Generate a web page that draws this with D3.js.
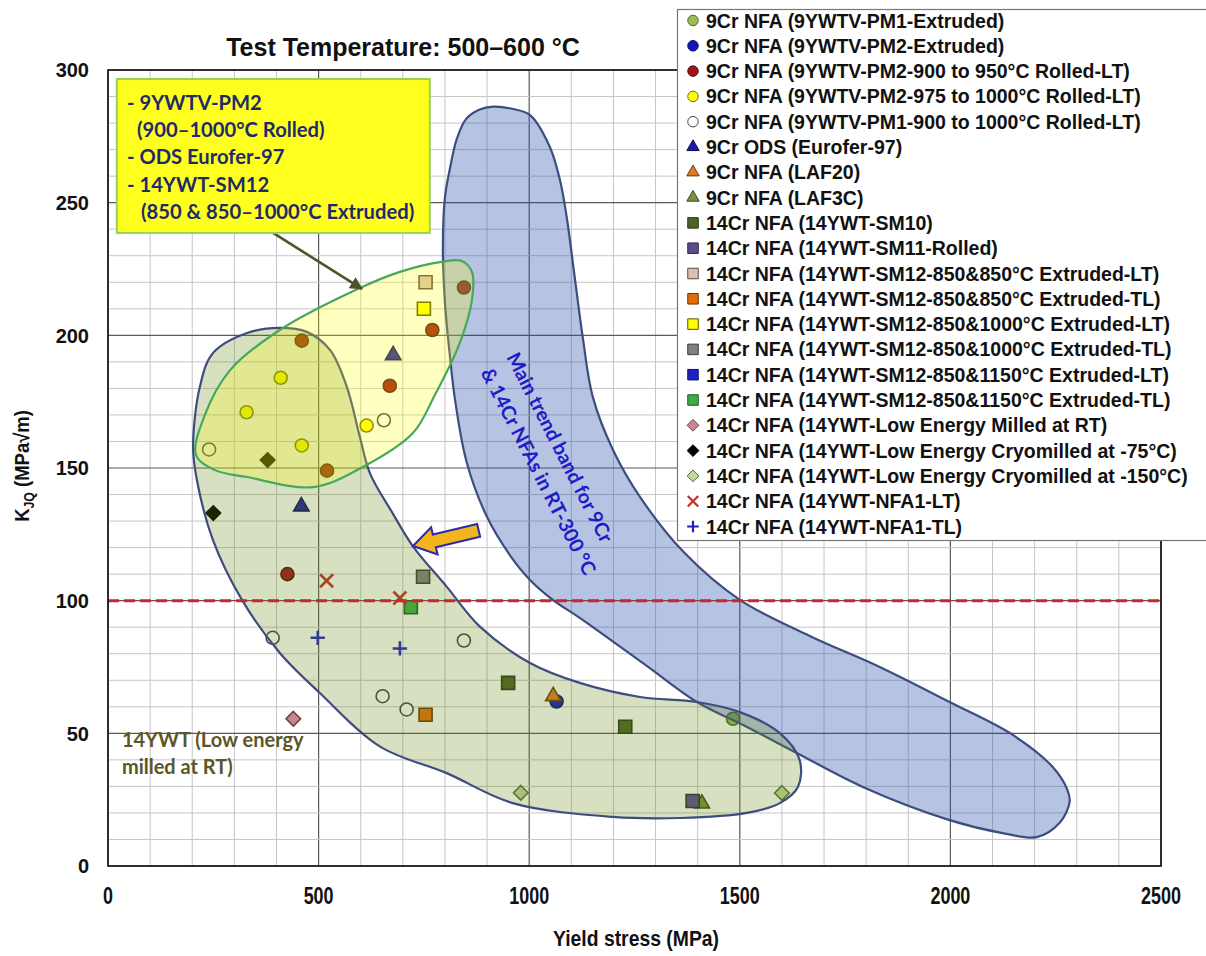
<!DOCTYPE html>
<html><head><meta charset="utf-8">
<script src="https://cdn.jsdelivr.net/npm/d3@7"></script>
<style>
body{margin:0;background:#fff;}
svg{display:block;}
text{font-family:"Liberation Sans",Arial,sans-serif;}
</style></head><body>
<svg id="c" width="1206" height="956"></svg>
<script>
// ---------- DATA ----------
const xTicks = [0, 500, 1000, 1500, 2000, 2500];
const yTicks = [0, 50, 100, 150, 200, 250, 300];
const xMinor = d3.range(0, 2501, 100);
const yMinor = d3.range(0, 301, 10);

const seriesLabels = [
"9Cr NFA (9YWTV-PM1-Extruded)",
"9Cr NFA (9YWTV-PM2-Extruded)",
"9Cr NFA (9YWTV-PM2-900 to 950°C Rolled-LT)",
"9Cr NFA (9YWTV-PM2-975 to 1000°C Rolled-LT)",
"9Cr NFA (9YWTV-PM1-900 to 1000°C Rolled-LT)",
"9Cr ODS (Eurofer-97)",
"9Cr NFA (LAF20)",
"9Cr NFA (LAF3C)",
"14Cr NFA (14YWT-SM10)",
"14Cr NFA (14YWT-SM11-Rolled)",
"14Cr NFA (14YWT-SM12-850&850°C Extruded-LT)",
"14Cr NFA (14YWT-SM12-850&850°C Extruded-TL)",
"14Cr NFA (14YWT-SM12-850&1000°C Extruded-LT)",
"14Cr NFA (14YWT-SM12-850&1000°C Extruded-TL)",
"14Cr NFA (14YWT-SM12-850&1150°C Extruded-LT)",
"14Cr NFA (14YWT-SM12-850&1150°C Extruded-TL)",
"14Cr NFA (14YWT-Low Energy Milled at RT)",
"14Cr NFA (14YWT-Low Energy Cryomilled at -75°C)",
"14Cr NFA (14YWT-Low Energy Cryomilled at -150°C)",
"14Cr NFA (14YWT-NFA1-LT)",
"14Cr NFA (14YWT-NFA1-TL)"];

const seriesShapes = ["circle","circle","circle","circle","circle","triangle","triangle","triangle",
"square","square","square","square","square","square","square","square",
"diamond","diamond","diamond","x","plus"];

const seriesFills = ["#9bbb59","#1515c0","#a31515","#ffff00","#ffffff","#1c1ca8","#e07b28","#77933c",
"#4f6228","#5f4b8b","#dcc0b4","#e46c0a","#ffff00","#808080","#1f1fc8","#3fae49",
"#c9868f","#000000","#c3d69b","#c0302a","#1f1fc0"];

const seriesStrokes = ["#4e6a2a","#0b0b60","#4a1010","#6b6b10","#444444","#0d0d55","#6b3a10","#3b4a1e",
"#2a3515","#2e2545","#5a4a40","#6b3405","#555500","#3a3a3a","#101060","#1f5a25",
"#6a4045","#000000","#5a6a3a","#c0302a","#1f1fc0"];

const pm1Extruded   = [[1484, 55.5]];
const pm2Extruded   = [[1065, 62]];
const pm2Rolled950  = [[845, 218], [770, 202], [460, 198], [669, 181], [520, 149], [426, 110]];
const pm2Rolled1000 = [[410, 184], [329, 171], [614, 166], [460, 158.5]];
const pm1Rolled     = [[655, 168], [240, 157], [391, 86], [845, 85], [652, 64], [709, 59]];
const eurofer97     = [[677, 192.5], [459, 135.5]];
const laf20         = [[1057, 64]];
const laf3c         = [[1410, 23.5]];
const sm10          = [[950, 69], [1228, 52.5]];
const sm11Rolled    = [[1388, 24.5]];
const sm12_850LT    = [[754, 220]];
const sm12_850TL    = [[754, 57]];
const sm12_1000LT   = [[750, 210]];
const sm12_1000TL   = [[748, 109]];
const sm12_1150LT   = [];
const sm12_1150TL   = [[719, 97.5]];
const milledRT      = [[440, 55.5]];
const cryo75        = [[379, 153], [250, 133]];
const cryo150       = [[980, 27.6], [1600, 27.5]];
const nfa1LT        = [[519, 107.5], [693, 101]];
const nfa1TL        = [[498, 86], [693, 82]];

const seriesValues = [pm1Extruded, pm2Extruded, pm2Rolled950, pm2Rolled1000, pm1Rolled, eurofer97, laf20, laf3c,
  sm10, sm11Rolled, sm12_850LT, sm12_850TL, sm12_1000LT, sm12_1000TL, sm12_1150LT, sm12_1150TL,
  milledRT, cryo75, cryo150, nfa1LT, nfa1TL];

// band outlines (yield stress MPa, K_JQ)
const bandMainTrend = [[914,286.2],[959,285.4],[1002,283],[1049,271],[1073,258.5],[1089,244.6],[1108,222],[1127,199.4],[1151,176.8],
 [1199,156.8],[1263,139.1],[1365,118.6],[1500,100.3],[1666,86.7],[1832,75],[1998,61.8],[2148,49.4],[2243,37.3],
 [2278,28.6],[2283,24.1],[2259,16.2],[2205,10.9],[2124,12.4],[1998,17.3],[1792,29.8],[1635,42.6],[1517,52.4],
 [1398,61.8],[1279,75.4],[1120,93.5],[1056,100.3],[1002,107.8],[954,117.2],[900,131.5],[852,151.9],[824,175.6],
 [812,191.8],[800,212.2],[795,232.2],[800,252.1],[812,263],[828,274],[850,281.5],[881,285]];
const band14YWT = [[408,202.8],[472,201.3],[527,194.5],[567,180.6],[598,161.7],[622,148],[676,132.9],[724,120.5],
 [804,105.3],[883,90.2],[1002,76.5],[1120,69],[1263,63.7],[1398,61.8],[1500,58],[1595,50.1],[1642,40],[1638,29.8],
 [1595,23.7],[1517,20],[1358,18.1],[1199,18.5],[961,23.7],[804,35],[646,45],[503,65.2],[408,80.3],[318,100.3],
 [249,122.9],[211,145.5],[202,157.9],[218,180.5],[249,193.3],[330,200.9]];
const bandRolled = [[209,154.9],[254,149.2],[330,146.6],[487,142.8],[605,150.4],[724,163.2],[776,177.5],[835,197.1],
 [864,213.3],[864,223.9],[840,228],[788,227.6],[693,223.9],[598,217.8],[408,202],[290,186.9],[230,170]];

const thresholdK = 100;
const calloutLines = ["- 9YWTV-PM2", "(900–1000°C Rolled)", "- ODS Eurofer-97", "- 14YWT-SM12", "(850 & 850–1000°C Extruded)"];
const trendLabelLines = ["Main trend band for 9Cr", "& 14Cr NFAs in RT-300 °C"];
const lowEnergyLines = ["14YWT (Low energy", "milled at RT)"];

// ---------- CHART ----------
const svg = d3.select("#c");
const x = d3.scaleLinear([0, 2500], [108, 1161]);
const y = d3.scaleLinear([0, 300], [866, 70]);

// grid
const g = svg.append("g");
g.selectAll(".vmin").data(xMinor).join("line")
  .attr("x1", d => x(d)).attr("x2", d => x(d)).attr("y1", y(0)).attr("y2", y(300))
  .attr("stroke", d => d % 500 === 0 ? "#5a5a5a" : "#c6c6c6").attr("stroke-width", d => d % 500 === 0 ? 1.2 : 1);
g.selectAll(".hmin").data(yMinor).join("line")
  .attr("y1", d => y(d)).attr("y2", d => y(d)).attr("x1", x(0)).attr("x2", x(2500))
  .attr("stroke", d => d % 50 === 0 ? "#5a5a5a" : "#c6c6c6").attr("stroke-width", d => d % 50 === 0 ? 1.2 : 1);

function shapePath(shape, s) {
  if (shape === "circle") { const r = s / 2; return `M${r},0A${r},${r},0,1,1,${-r},0A${r},${r},0,1,1,${r},0Z`; }
  if (shape === "square") { const h = s / 2; return `M${-h},${-h}H${h}V${h}H${-h}Z`; }
  if (shape === "triangle") { const side = s * 1.18, h = side * Math.sqrt(3) / 2;
    return `M0,${-2 * h / 3}L${side / 2},${h / 3}L${-side / 2},${h / 3}Z`; }
  if (shape === "diamond") { const d = s * 0.56; return `M0,${-d}L${d},0L0,${d}L${-d},0Z`; }
  if (shape === "x") { const a = s * 0.5; return `M${-a},${-a}L${a},${a}M${-a},${a}L${a},${-a}`; }
  if (shape === "plus") { const a = s * 0.55; return `M${-a},0H${a}M0,${-a}V${a}`; }
}
function styleMarker(sel, i) {
  const sh = seriesShapes[i];
  if (sh === "x" || sh === "plus") {
    sel.attr("fill", "none").attr("stroke", seriesFills[i]).attr("stroke-width", 2.6);
  } else {
    sel.attr("fill", seriesFills[i]).attr("stroke", seriesStrokes[i]).attr("stroke-width", 1.6);
  }
}

// markers (under translucent bands)
const mg = svg.append("g");
seriesValues.forEach((vals, i) => {
  const sel = mg.selectAll(null).data(vals).join("path")
    .attr("d", shapePath(seriesShapes[i], 13))
    .attr("transform", d => `translate(${x(d[0])},${y(d[1])})`);
  styleMarker(sel, i);
});

// bands
const bandLine = d3.line().x(d => x(d[0])).y(d => y(d[1])).curve(d3.curveCatmullRomClosed.alpha(0.5));
svg.append("path").attr("d", bandLine(bandMainTrend))
  .attr("fill", "#1e46aa").attr("fill-opacity", 0.325).attr("stroke", "#3d4d7e").attr("stroke-width", 2.2);
svg.append("path").attr("d", bandLine(band14YWT))
  .attr("fill", "#648c14").attr("fill-opacity", 0.26).attr("stroke", "#3d4d7e").attr("stroke-width", 2.2);
svg.append("path").attr("d", bandLine(bandRolled))
  .attr("fill", "#ffff00").attr("fill-opacity", 0.25).attr("stroke", "#46a85a").attr("stroke-width", 2.2);

// threshold line
svg.append("line").attr("x1", x(0)).attr("x2", x(2500)).attr("y1", y(thresholdK)).attr("y2", y(thresholdK))
  .attr("stroke", "#c8262c").attr("stroke-width", 3).attr("stroke-dasharray", "11,5");

// plot border
svg.append("rect").attr("x", x(0)).attr("y", y(300)).attr("width", x(2500) - x(0)).attr("height", y(0) - y(300))
  .attr("fill", "none").attr("stroke", "#111").attr("stroke-width", 1.6);

// olive pointer arrow from callout to rolled band
const defs = svg.append("defs");
defs.append("marker").attr("id", "ah").attr("viewBox", "0 0 10 10").attr("refX", 9).attr("refY", 5)
  .attr("markerWidth", 5).attr("markerHeight", 5).attr("orient", "auto")
  .append("path").attr("d", "M0,0L10,5L0,10Z").attr("fill", "#50542a");
svg.append("line").attr("x1", x(392)).attr("y1", y(238.6)).attr("x2", x(603)).attr("y2", y(217.5))
  .attr("stroke", "#50542a").attr("stroke-width", 2.6).attr("marker-end", "url(#ah)");

// block arrow
(function () {
  const T = [x(724), y(120.6)], C = [x(880), y(126.5)];
  const dx = T[0] - C[0], dy = T[1] - C[1], L = Math.hypot(dx, dy);
  const ux = dx / L, uy = dy / L, nx = -uy, ny = ux;
  const hl = 22, hw = 14, bw = 6.5;
  const N = [C[0] + ux * (L - hl), C[1] + uy * (L - hl)];
  const pts = [
    [C[0] + nx * bw, C[1] + ny * bw], [N[0] + nx * bw, N[1] + ny * bw], [N[0] + nx * hw, N[1] + ny * hw], T,
    [N[0] - nx * hw, N[1] - ny * hw], [N[0] - nx * bw, N[1] - ny * bw], [C[0] - nx * bw, C[1] - ny * bw]];
  svg.append("path").attr("d", "M" + pts.map(p => p.join(",")).join("L") + "Z")
    .attr("fill", "#f2b51e").attr("stroke", "#2a2ab0").attr("stroke-width", 2);
})();

// callout box
svg.append("rect").attr("x", x(21)).attr("y", y(296.6)).attr("width", x(764) - x(21)).attr("height", y(238.6) - y(296.6))
  .attr("fill", "#ffff1e").attr("stroke", "#9cd055").attr("stroke-width", 2);
const calloutX = [127, 137, 127, 127, 141];
svg.append("g").selectAll("text").data(calloutLines).join("text")
  .attr("x", (d, i) => calloutX[i]).attr("y", (d, i) => 110 + i * 27.2)
  .style("font-family", "Lato, 'Open Sans', sans-serif").style("font-weight", "bold").style("font-size", "20.2px")
  .attr("fill", "#1f2a6a").text(d => d);

// trend band label (rotated)
svg.append("g").selectAll("text").data(trendLabelLines).join("text")
  .attr("transform", (d, i) => i === 0 ? `translate(${x(945)},${y(191.8)}) rotate(63)` : `translate(${x(884)},${y(186)}) rotate(63)`)
  .style("font-family", "Lato, 'Open Sans', sans-serif").style("font-weight", "bold").style("font-size", "19.6px")
  .attr("fill", "#1c1cc8").text(d => d);

// low energy label
svg.append("g").selectAll("text").data(lowEnergyLines).join("text")
  .attr("x", x(33)).attr("y", (d, i) => i === 0 ? y(44.8) : y(34.5))
  .style("font-family", "Lato, 'Open Sans', sans-serif").style("font-weight", "bold").style("font-size", "20px")
  .attr("fill", "#5c5628").text(d => d);

// axes tick labels
svg.append("g").selectAll("text").data(yTicks).join("text")
  .attr("x", 89).attr("y", d => y(d)).attr("dy", "0.36em").attr("text-anchor", "end")
  .style("font-weight", "bold").style("font-size", "20px").attr("fill", "#111").text(d => d);
svg.append("g").selectAll("text").data(xTicks).join("text")
  .attr("transform", d => `translate(${x(d)},904) scale(0.78,1)`).attr("text-anchor", "middle")
  .style("font-weight", "bold").style("font-size", "23px").attr("fill", "#111").text(d => d);

// axis titles
svg.append("text").attr("transform", "translate(636,946) scale(0.88,1)").attr("text-anchor", "middle")
  .style("font-weight", "bold").style("font-size", "22px").attr("fill", "#111").text("Yield stress (MPa)");
const yl = svg.append("text").attr("transform", "translate(29,466) rotate(-90) scale(0.88,1)").attr("text-anchor", "middle")
  .style("font-weight", "bold").style("font-size", "21px").attr("fill", "#111");
yl.append("tspan").text("K");
yl.append("tspan").attr("dy", 5).style("font-size", "14px").text("JQ");
yl.append("tspan").attr("dy", -5).text(" (MPa√m)");

// title
svg.append("text").attr("x", 403).attr("y", 56).attr("text-anchor", "middle")
  .style("font-weight", "bold").style("font-size", "25px").attr("fill", "#111").text("Test Temperature: 500–600 °C");

// legend
const lg = svg.append("g");
lg.append("rect").attr("x", 677.5).attr("y", 9.5).attr("width", 540).attr("height", 531)
  .attr("fill", "#fff").attr("stroke", "#777").attr("stroke-width", 1.2);
seriesLabels.forEach((lab, i) => {
  const yy = 20.5 + i * 25.3;
  const p = lg.append("path").attr("d", shapePath(seriesShapes[i], 10.5)).attr("transform", `translate(693,${yy})`);
  styleMarker(p, i);
  if (seriesShapes[i] === "x" || seriesShapes[i] === "plus") p.attr("stroke-width", 2.2);
  else p.attr("stroke-width", 1);
  lg.append("text").attr("x", 706).attr("y", yy).attr("dy", "0.36em")
    .style("font-weight", "bold").style("font-size", "19.5px").attr("fill", "#111").text(lab);
});
</script>
</body></html>
